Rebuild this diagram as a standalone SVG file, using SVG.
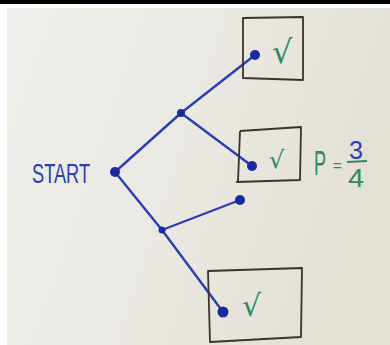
<svg xmlns="http://www.w3.org/2000/svg" width="390" height="345" viewBox="0 0 390 345">
<defs>
<linearGradient id="paper" x1="0" y1="0" x2="1" y2="0.3">
<stop offset="0" stop-color="#efeeea"/>
<stop offset="0.5" stop-color="#ebe9e3"/>
<stop offset="1" stop-color="#e4e0d6"/>
</linearGradient>
<style>
.edge{stroke:#2c3fae;stroke-width:2.4;fill:none;stroke-linecap:round}
.dot{fill:#1a2a9e}
.box{fill:none;stroke:#3b332c;stroke-width:1.8;stroke-linejoin:round}
.chk{font-family:"DejaVu Sans",sans-serif;fill:#2f8a5a}
.lbl{font-family:"Liberation Sans",sans-serif;fill:#2b3fb0}
.p{font-family:"Liberation Sans",sans-serif;fill:#2f8a5a}
</style>
</defs>
<rect x="0" y="0" width="390" height="345" fill="#ffffff"/>
<rect x="7" y="8" width="383" height="337" fill="url(#paper)"/>
<rect x="0" y="0" width="390" height="4" fill="#000000"/>
<g id="connectors">
<path class="edge" d="M115,172 L181,113"/>
<path class="edge" d="M181,113 L255,55"/>
<path class="edge" d="M181,113 L252,166"/>
<path class="edge" d="M115,172 L162,230"/>
<path class="edge" d="M162,230 L240,200"/>
<path class="edge" d="M162,230 L223,312"/>
</g>
<g id="start">
<text class="lbl" x="32" y="183" font-size="27" textLength="58" lengthAdjust="spacingAndGlyphs">START</text>
<circle class="dot" cx="115" cy="172" r="5"/>
</g>
<g id="n1"><circle class="dot" cx="181" cy="113" r="4"/></g>
<g id="n2"><circle class="dot" cx="162" cy="230" r="3.5"/></g>
<g id="leaf1">
<path class="box" d="M243,18 L303,17 L303,80 L243,78 Z"/>
<circle class="dot" cx="255" cy="55" r="5"/>
<text class="chk" x="272" y="63" font-size="32">√</text>
</g>
<g id="leaf2">
<path class="box" d="M240,131 L301,127 L300,180 L236,182"/>
<path class="box" d="M240,131 L238,182"/>
<circle class="dot" cx="252" cy="166" r="5"/>
<text class="chk" x="269" y="168" font-size="24">√</text>
</g>
<g id="leaf3"><circle class="dot" cx="240" cy="200" r="5"/></g>
<g id="leaf4">
<path class="box" d="M208,271 L302,268 L301,337 L210,342 Z"/>
<circle class="dot" cx="223" cy="312" r="5.5"/>
<text class="chk" x="242" y="316" font-size="30">√</text>
</g>
<g id="prob">
<text class="p" transform="translate(314,175) scale(0.5,1)" font-size="36">P</text>
<text class="p" x="333" y="171" font-size="15">=</text>
<text class="lbl" x="349" y="159" font-size="26" textLength="14" lengthAdjust="spacingAndGlyphs">3</text>
<path d="M347,162 L367,161" stroke="#2f8a5a" stroke-width="1.8"/>
<text class="p" x="348" y="187" font-size="26" textLength="16" lengthAdjust="spacingAndGlyphs">4</text>
</g>
</svg>
